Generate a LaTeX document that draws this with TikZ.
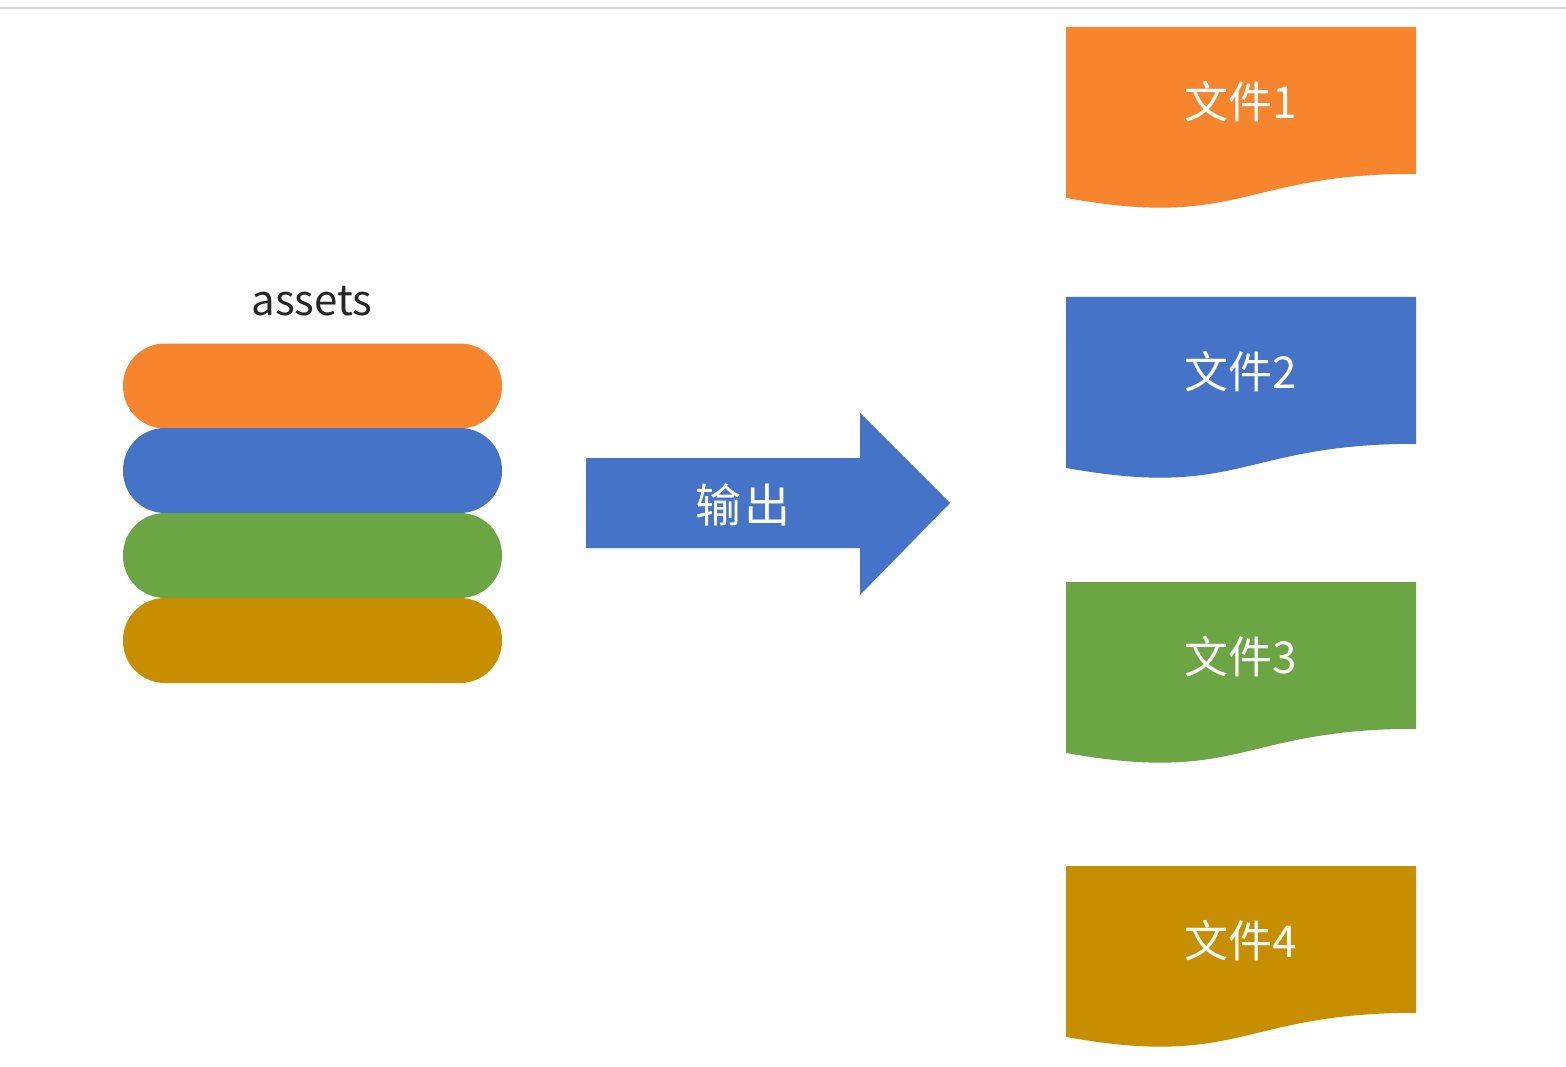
\documentclass[tikz,border=0pt]{standalone}
\usepackage{fontspec}
\setmainfont{Noto Sans CJK SC}
\definecolor{cOrange}{HTML}{F6852D}
\definecolor{cBlue}{HTML}{4473C8}
\definecolor{cGreen}{HTML}{6BA544}
\definecolor{cGold}{HTML}{C78F00}
\definecolor{cLine}{HTML}{D9D9D9}
\newcommand{\drawdocshape}[4]{%
  % #1 top y, #2 colour, #3 node name, #4 label
  \fill[#2] (1066,#1) -- (1416,#1) -- (1416,#1+146.8)
    .. controls (1241,#1+146.8) and (1241,#1+202.7) .. (1066,#1+170.9) -- cycle;
  \node[doclabel] (#3) at (1241,#1+75) {#4};
}
\begin{document}
\begin{tikzpicture}[x=1pt,y=-1pt,
  pill/.style={draw=none, rectangle, rounded corners=42pt, minimum width=379pt, minimum height=85pt, inner sep=0pt},
  doclabel/.style={text=white, font=\fontsize{44}{50}\selectfont, inner sep=0pt},
  arrowlabel/.style={text=white, font=\fontsize{46}{52}\selectfont, inner sep=0pt},
  titlelabel/.style={text=black!85, font=\fontsize{42}{48}\selectfont, inner sep=0pt}]
\useasboundingbox (0,0) rectangle (1566,1067);
\fill[white] (0,0) rectangle (1566,1067);
\draw[cLine, line width=2pt] (0,8) -- (1566,8);
% asset stack
\node[titlelabel] (assets) at (312,301) {assets};
\node[pill, fill=cOrange] (p1) at (312.5,386) {};
\node[pill, fill=cBlue]   (p2) at (312.5,470.5) {};
\node[pill, fill=cGreen]  (p3) at (312.5,555.5) {};
\node[pill, fill=cGold]   (p4) at (312.5,640.5) {};
% arrow
\fill[cBlue] (586,458) -- (860,458) -- (860,413) -- (950,503) -- (860,595) -- (860,548) -- (586,548) -- cycle;
\node[arrowlabel] (out) at (743,505) {输\hspace{3pt}出};
% documents
\drawdocshape{27}{cOrange}{f1}{文件1}
\drawdocshape{297}{cBlue}{f2}{文件2}
\drawdocshape{582}{cGreen}{f3}{文件3}
\drawdocshape{866}{cGold}{f4}{文件4}
\end{tikzpicture}
\end{document}
